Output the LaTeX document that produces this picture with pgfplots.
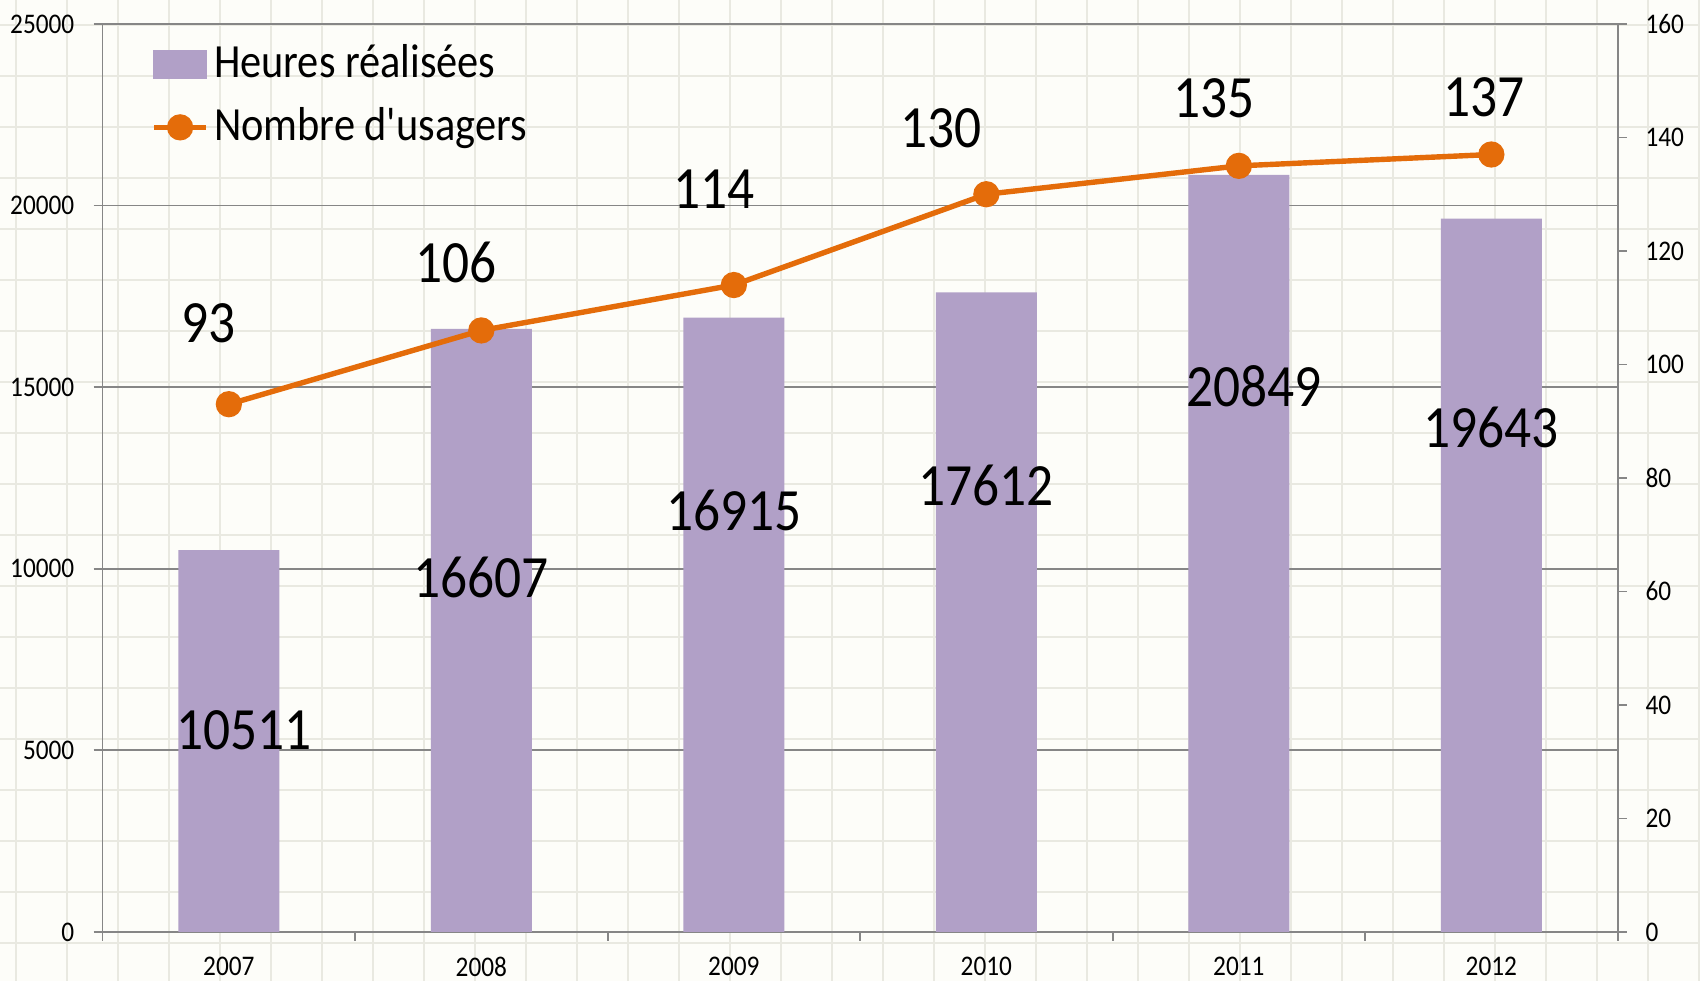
\documentclass[border=0pt]{standalone}
\usepackage{pgfplots}
\pgfplotsset{compat=1.18}
\usepackage{fontspec}
\setmainfont[FakeStretch=0.89]{Carlito}
\newfontfamily\legfont[FakeStretch=0.89]{Carlito}
\definecolor{barc}{HTML}{B1A0C7}
\definecolor{linec}{HTML}{E46C0A}
\definecolor{axc}{HTML}{868686}
\definecolor{bgc}{HTML}{FDFDF9}
\definecolor{cellc}{HTML}{E9E9E1}
\newcommand{\tickfont}{\fontsize{7.1}{8}\selectfont}
\newcommand{\labfont}{\fontsize{15}{17}\selectfont}
\begin{document}
\begin{tikzpicture}
\useasboundingbox[fill=bgc] (-25.65pt,-12.25pt) rectangle (399.35pt,233pt);
\begin{scope}
\clip (-25.65pt,-12.25pt) rectangle (399.35pt,233pt);
\draw[cellc, line width=0.5pt, step=12.75pt, shift={(3.9pt,10pt)}] (-40pt,-30pt) grid (420pt,250pt);
\end{scope}
\begin{axis}[
  at={(0,0)}, anchor=south west,
  scale only axis, width=378.75pt, height=227pt,
  xmin=-0.5, xmax=5.5, ymin=0, ymax=25000,
  xtick={0,1,2,3,4,5},
  xticklabels={2007,2008,2009,2010,2011,2012},
  minor xtick={-0.5,0.5,1.5,2.5,3.5,4.5,5.5},
  major x tick style={draw=none},
  ytick={0,5000,10000,15000,20000,25000},
  xtick pos=bottom, ytick pos=left,
  tick align=outside,
  major tick length=2.25pt, minor tick length=2.25pt,
  tick style={axc, line width=0.45pt},
  axis line style={axc, line width=0.45pt},
  ymajorgrids, grid style={axc, line width=0.45pt},
  /pgf/number format/assume math mode=true,
  /pgf/number format/set thousands separator={},
  scaled y ticks=false,
  ticklabel style={font=\tickfont, text=black},
  xticklabel style={yshift=-0.6pt},
  yticklabel style={xshift=-1.3pt},
  ybar, bar width=25.25pt,
]
\addplot[fill=barc, draw=none] coordinates {(0,10511) (1,16607) (2,16915) (3,17612) (4,20849) (5,19643)};
\node[font=\labfont] at (axis cs:0.06,5565) {10511};
\node[font=\labfont] at (axis cs:1.0,9762) {16607};
\node[font=\labfont] at (axis cs:2.0,11607) {16915};
\node[font=\labfont] at (axis cs:3.0,12292) {17612};
\node[font=\labfont] at (axis cs:4.06,15030) {20849};
\node[font=\labfont] at (axis cs:5.0,13899) {19643};
\node[font=\labfont] at (axis cs:-0.08,16756) {93};
\node[font=\labfont] at (axis cs:0.90,18423) {106};
\node[font=\labfont] at (axis cs:1.92,20446) {114};
\node[font=\labfont] at (axis cs:2.82,22143) {130};
\node[font=\labfont] at (axis cs:3.90,22946) {135};
\node[font=\labfont] at (axis cs:4.97,22976) {137};
\end{axis}
\begin{axis}[
  at={(0,0)}, anchor=south west,
  scale only axis, width=378.75pt, height=227pt,
  xmin=-0.5, xmax=5.5, ymin=0, ymax=160,
  axis x line=none, axis y line*=right,
  ytick={0,20,...,160},
  tick align=outside, major tick length=2.25pt,
  tick style={axc, line width=0.45pt},
  axis line style={-, axc, line width=0.45pt},
  /pgf/number format/assume math mode=true,
  ticklabel style={font=\tickfont, text=black},
  yticklabel style={xshift=1.2pt},
  legend style={at={(0,1)}, anchor=north west, xshift=9pt, yshift=-1pt, draw=none, fill=none,
    font=\legfont\fontsize{11.9}{13}\selectfont, row sep=2pt,
    nodes={inner xsep=1.3pt}},
  legend cell align=left,
]
\addlegendimage{legend image code/.code={\fill[barc] (0pt,-3.35pt) rectangle (13pt,3.35pt);}}
\addlegendentry{Heures réalisées}
\addplot[linec, line width=1.35pt, mark=*, mark size=2.6pt, mark options={fill=linec, draw=linec},
  legend image code/.code={\draw[linec, line width=1.35pt] (0pt,0pt) -- (13pt,0pt); \fill[linec] (6.5pt,0pt) circle (2.6pt);}]
  coordinates {(0,93) (1,106) (2,114) (3,130) (4,135) (5,137)};
\addlegendentry{Nombre d'usagers}
\end{axis}
\end{tikzpicture}
\end{document}
